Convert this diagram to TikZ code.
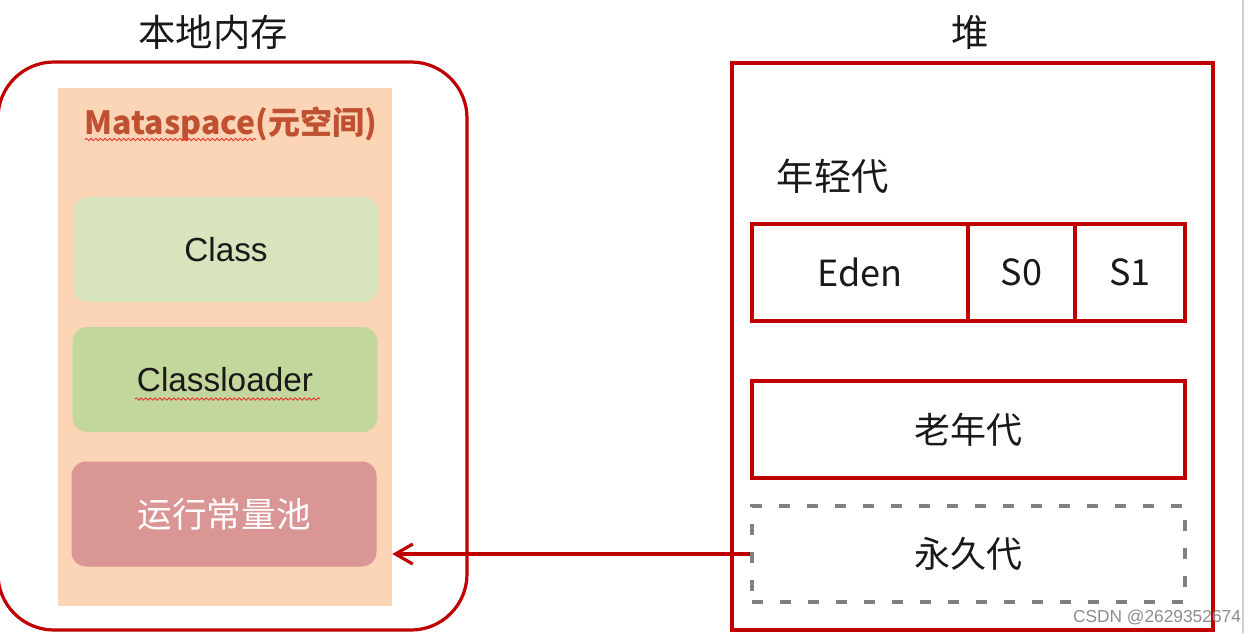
\documentclass[tikz,border=0pt]{standalone}
\usepackage{fontspec}
\setmainfont{Noto Sans CJK SC}
\newfontfamily\arialfont{Liberation Sans}
\usetikzlibrary{arrows.meta,decorations.pathmorphing}

\begin{document}
\begin{tikzpicture}[x=0.75pt,y=-0.75pt,
    heading/.style={font=\fontsize{28pt}{32pt}\selectfont,text=txt},
    area/.style={rectangle,draw=heapred,line width=2.4pt,inner sep=0pt},
    genbox/.style={rectangle,draw=heapred,line width=2.4pt,inner sep=0pt,
        minimum height=72.75pt,text=txt,font=\fontsize{27pt}{30pt}\selectfont},
    metabox/.style={rectangle,rounded corners=11pt,inner sep=0pt,
        minimum width=228.75pt,minimum height=78.75pt,text=txt,
        font=\arialfont\fontsize{25pt}{28pt}\selectfont},
    spell/.style={draw=spellred,line width=0.6pt,decorate,
        decoration={snake,amplitude=0.9pt,segment length=3.5pt}},
    link/.style={draw=heapred,line width=2.4pt,-{Straight Barb[length=13pt,width=15pt,line width=2.4pt]}}
]

    % Colors
    \definecolor{heapred}{RGB}{192,0,0} % border red
    \definecolor{peach}{RGB}{251,213,181} % metaspace
    \definecolor{classgreen}{RGB}{215,228,189}
    \definecolor{loadergreen}{RGB}{195,214,155}
    \definecolor{poolred}{RGB}{217,150,148}
    \definecolor{titlered}{RGB}{192,80,50}
    \definecolor{spellred}{RGB}{235,40,40}
    \definecolor{permgray}{RGB}{128,128,128}
    \definecolor{txt}{RGB}{25,25,25}

    \useasboundingbox (0,0) rectangle (1258,633);

    % screenshot edge
    \draw[line width=1.5pt,black!18] (1243,0) -- (1243,633);

    % Native memory
    \node[heading] (nativelabel) at (213,32) {本地内存};
    \node[area,rounded corners=42pt,minimum width=351.75pt,minimum height=426pt]
        (native) at (232.5,346) {};
    \node[fill=peach,inner sep=0pt,minimum width=250.5pt,minimum height=388.5pt]
        (meta) at (225,347) {};
    \node[font=\bfseries\fontsize{24pt}{28pt}\selectfont,text=titlered]
        (metatitle) at (231,124) {Mataspace(元空间)};
    \draw[spell] (85,139.5) -- (256,139.5);

    \node[metabox,fill=classgreen] (class) at (226,249.5) {Class};
    \node[metabox,fill=loadergreen] (loader) at (225,379.5) {Classloader};
    \draw[spell] (135,399) -- (320,399);
    \node[metabox,fill=poolred,text=white,font=\fontsize{26pt}{30pt}\selectfont]
        (pool) at (224,514) {运行常量池};

    % Heap
    \node[heading] (heaplabel) at (970,32) {堆};
    \node[area,minimum width=360.75pt,minimum height=425.25pt] (heap) at (972.5,346.5) {};
    \node[heading,anchor=west] (younglabel) at (772,176) {年轻代};

    \node[genbox,minimum width=162pt] (eden) at (860,272.5) {Eden};
    \node[genbox,minimum width=80.25pt] (s0) at (1021.5,272.5) {S0};
    \node[genbox,minimum width=82.5pt] (s1) at (1130,272.5) {S1};

    \node[genbox,minimum width=324.75pt] (old) at (968.5,429.5) {老年代};
    \node[genbox,draw=permgray,line width=3pt,dash pattern=on 8pt off 13pt,
        minimum width=324.75pt,minimum height=72pt]
        (perm) at (968.5,554) {永久代};

    % Permanent generation -> metaspace
    \draw[link] (perm.west) -- (perm.west -| meta.east);

    % watermark
    \node[font=\arialfont\fontsize{13pt}{15pt}\selectfont,text=black!45]
        (mark) at (1157,617) {CSDN @2629352674};

\end{tikzpicture}
\end{document}
